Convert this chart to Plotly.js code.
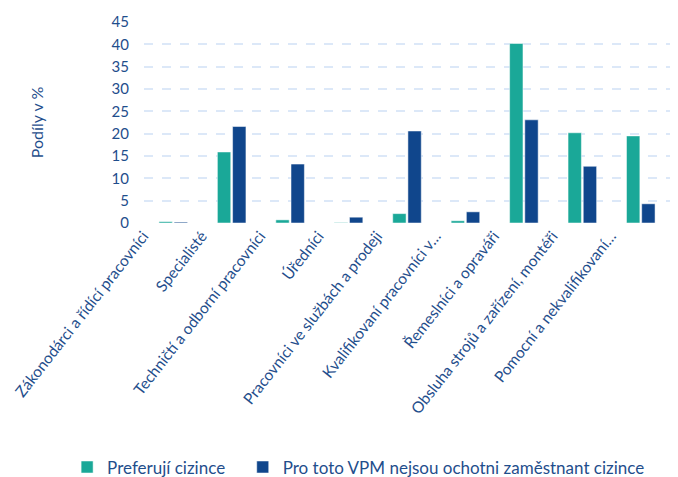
<!DOCTYPE html>
<html>
<head>
<meta charset="utf-8">
<script src="https://cdn.plot.ly/plotly-3.0.1.min.js"></script>
<style>
  html, body { margin: 0; padding: 0; background: #fff; }
  #chart { width: 678px; height: 477px; }
</style>
</head>
<body>
<div id="chart"></div>
<script>
// categories (labels as shown, incl. truncation)
const categories = [
    'Zákonodárci a řídící pracovníci',
    'Specialisté',
    'Techničtí a odborní pracovníci',
    'Úředníci',
    'Pracovníci ve službách a prodeji',
    'Kvalifikovaní pracovníci v…',
    'Řemeslníci a opraváři',
    'Obsluha strojů a zařízení, montéři',
    'Pomocní a nekvalifikovaní…'
];
const preferujiCizince = [0.3, 15.9, 0.7, 0.1, 2.1, 0.5, 40.2, 20.2, 19.5];
const neochotni = [0.2, 21.6, 13.2, 1.3, 20.6, 2.5, 23.1, 12.7, 4.3];
const yTicks = [0, 5, 10, 15, 20, 25, 30, 35, 40, 45];

const textColor = '#1f4e8c';
const fam = 'Lato, "Open Sans", sans-serif';
const font = { family: fam, size: 15, color: textColor };
const legendFont = { family: fam, size: 17, color: textColor };

const traceA = {
    x: categories,
    y: preferujiCizince,
    type: 'bar',
    name: 'Preferují cizince',
    legend: 'legend',
    marker: { color: '#1aa898', line: { color: '#ffffff', width: 0.5 } }
};
const traceB = {
    x: categories,
    y: neochotni,
    type: 'bar',
    name: 'Pro toto VPM nejsou ochotni zaměstnant cizince',
    legend: 'legend2',
    marker: { color: '#10468c', line: { color: '#ffffff', width: 0.5 } }
};

// one legend per series so the row does not wrap
const legendBase = {
    orientation: 'h',
    xref: 'container',
    yref: 'container',
    xanchor: 'left',
    y: 0.02,
    yanchor: 'middle',
    font: legendFont,
    itemwidth: 30
};

const layout = {
    width: 678,
    height: 477,
    font: font,
    barmode: 'group',
    bargap: 0.48,
    bargroupgap: 0.12,
    margin: { l: 144, r: 8, t: 22, b: 254 },
    paper_bgcolor: '#ffffff',
    plot_bgcolor: '#ffffff',
    xaxis: {
        tickangle: -52,
        tickfont: { family: fam, size: 15.5, color: textColor },
        ticklabelshift: -30,
        showgrid: false,
        zeroline: false,
        showline: false,
        ticks: ''
    },
    yaxis: {
        range: [0, 45],
        tickvals: yTicks,
        tickfont: font,
        ticklabelstandoff: 14,
        gridcolor: '#dce8f8',
        gridwidth: 2,
        griddash: 'dash',
        zeroline: false,
        showline: false,
        ticks: '',
        title: { text: 'Podíly v %', font: { family: fam, size: 16, color: textColor }, standoff: 63 }
    },
    legend: Object.assign({}, legendBase, { x: 0.099 }),
    legend2: Object.assign({}, legendBase, { x: 0.358 }),
    showlegend: true
};

Plotly.newPlot('chart', [traceA, traceB], layout, { displayModeBar: false, staticPlot: true });
</script>
</body>
</html>
